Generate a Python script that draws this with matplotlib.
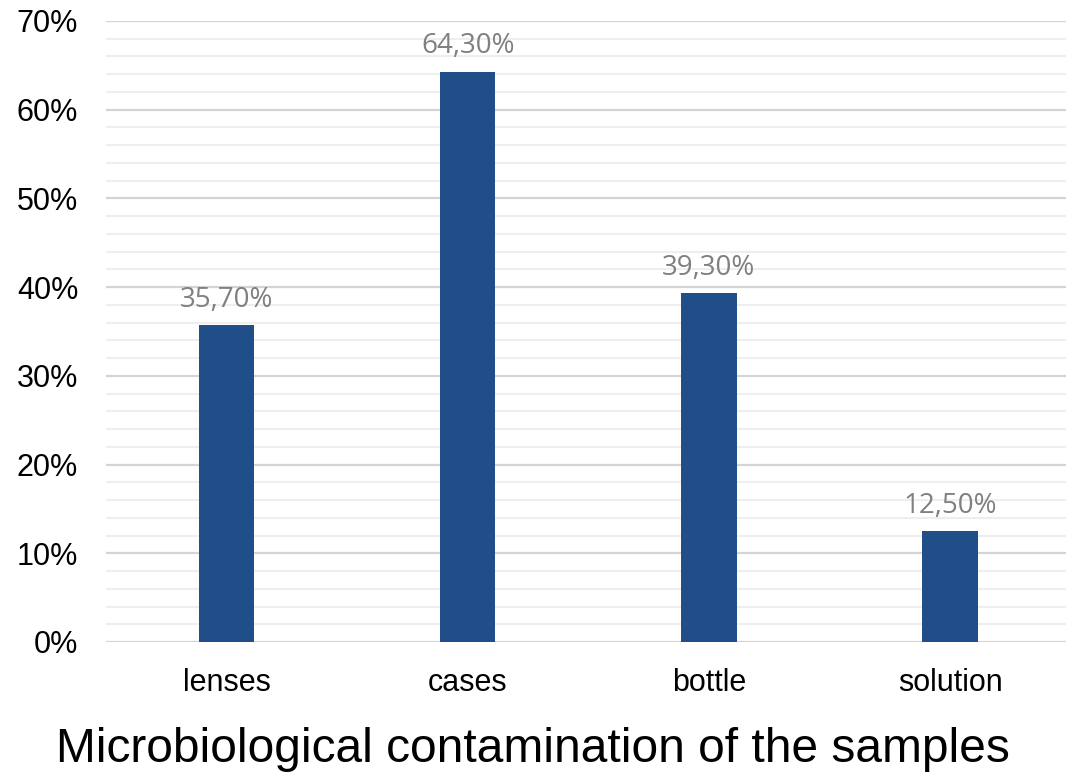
import numpy as np
import matplotlib.pyplot as plt
from matplotlib.ticker import MultipleLocator, PercentFormatter

categories = ['lenses', 'cases', 'bottle', 'solution']
values = [35.7, 64.3, 39.3, 12.5]
labels = ['35,70%', '64,30%', '39,30%', '12,50%']

fig = plt.figure(figsize=(10.66, 7.72), dpi=100)
ax = fig.add_axes([0.0994, 0.1684, 0.905, 0.8044])

x = np.arange(len(categories))
ax.bar(x, values, width=0.23, color='#1f4e88', zorder=3)

# data labels above bars
for xi, v, lab in zip(x, values, labels):
    ax.annotate(lab, (xi, v), xytext=(0, 8), textcoords='offset points',
                ha='center', va='bottom', fontsize=20, color='#808080',
                family='Open Sans')

ax.set_xlim(-0.5, 3.5)
ax.set_ylim(0, 70)
ax.yaxis.set_major_locator(MultipleLocator(10))
ax.yaxis.set_minor_locator(MultipleLocator(2))
ax.yaxis.set_major_formatter(PercentFormatter(decimals=0))
ax.grid(axis='y', which='major', color='#d4d4d4', linewidth=1.6, zorder=0)
ax.grid(axis='y', which='minor', color='#eeeeee', linewidth=1.5, zorder=0)

ax.set_xticks(x)
ax.set_xticklabels(categories)
ax.tick_params(axis='both', which='both', length=0, labelsize=22, colors='black')
ax.tick_params(axis='x', pad=19)
ax.tick_params(axis='y', pad=20)
for lbl in ax.get_xticklabels() + ax.get_yticklabels():
    lbl.set_family('Liberation Sans')

for s in ax.spines.values():
    s.set_visible(False)

fig.text(0.5, 0.013, 'Microbiological contamination of the samples',
         ha='center', va='baseline', fontsize=34.5, family='Liberation Sans')

fig.savefig('out.png', dpi=100)
